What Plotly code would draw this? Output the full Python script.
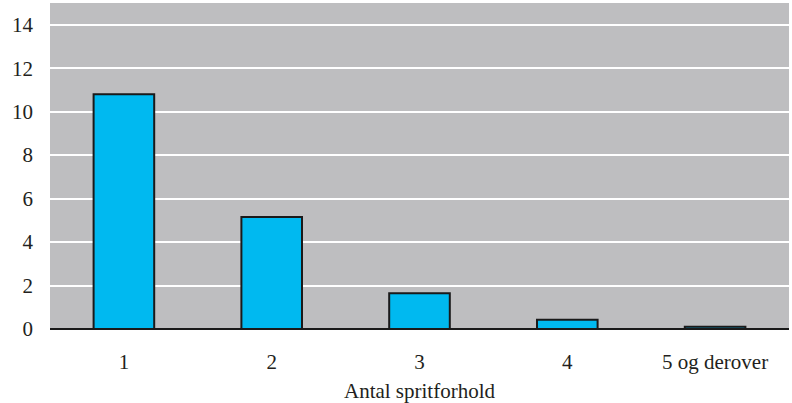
import plotly.graph_objects as go

categories = ["1", "2", "3", "4", "5 og derover"]
values = [10.8, 5.15, 1.65, 0.42, 0.1]
y_ticks = [0, 2, 4, 6, 8, 10, 12, 14]
x_title = "Antal spritforhold"

fig = go.Figure(go.Bar(
    x=categories, y=values,
    marker=dict(color="#00B9F0", line=dict(color="#1a1a1a", width=2)),
    width=0.41,
))

font = dict(family="Liberation Serif", size=21, color="#231f20")
fig.update_layout(
    width=792, height=403,
    margin=dict(l=50, r=3, t=3, b=74),
    paper_bgcolor="white", plot_bgcolor="#BEBEC0",
    font=font, showlegend=False,
    bargap=0.59,
)
fig.update_yaxes(
    range=[0, 15], tickvals=y_ticks, showgrid=True, gridcolor="white", gridwidth=2,
    zeroline=True, zerolinecolor="#1a1a1a", zerolinewidth=2,
    ticks="", ticklabelstandoff=16, tickfont=font, automargin=False,
)
fig.update_xaxes(
    showgrid=False, ticks="", ticklabelstandoff=18, tickfont=font, automargin=False,
    title=dict(text=x_title, font=font, standoff=11),
)
fig.write_html("out.html", config={"displayModeBar": False},
               post_script="document.body.style.margin='0';document.body.style.overflow='hidden';")
